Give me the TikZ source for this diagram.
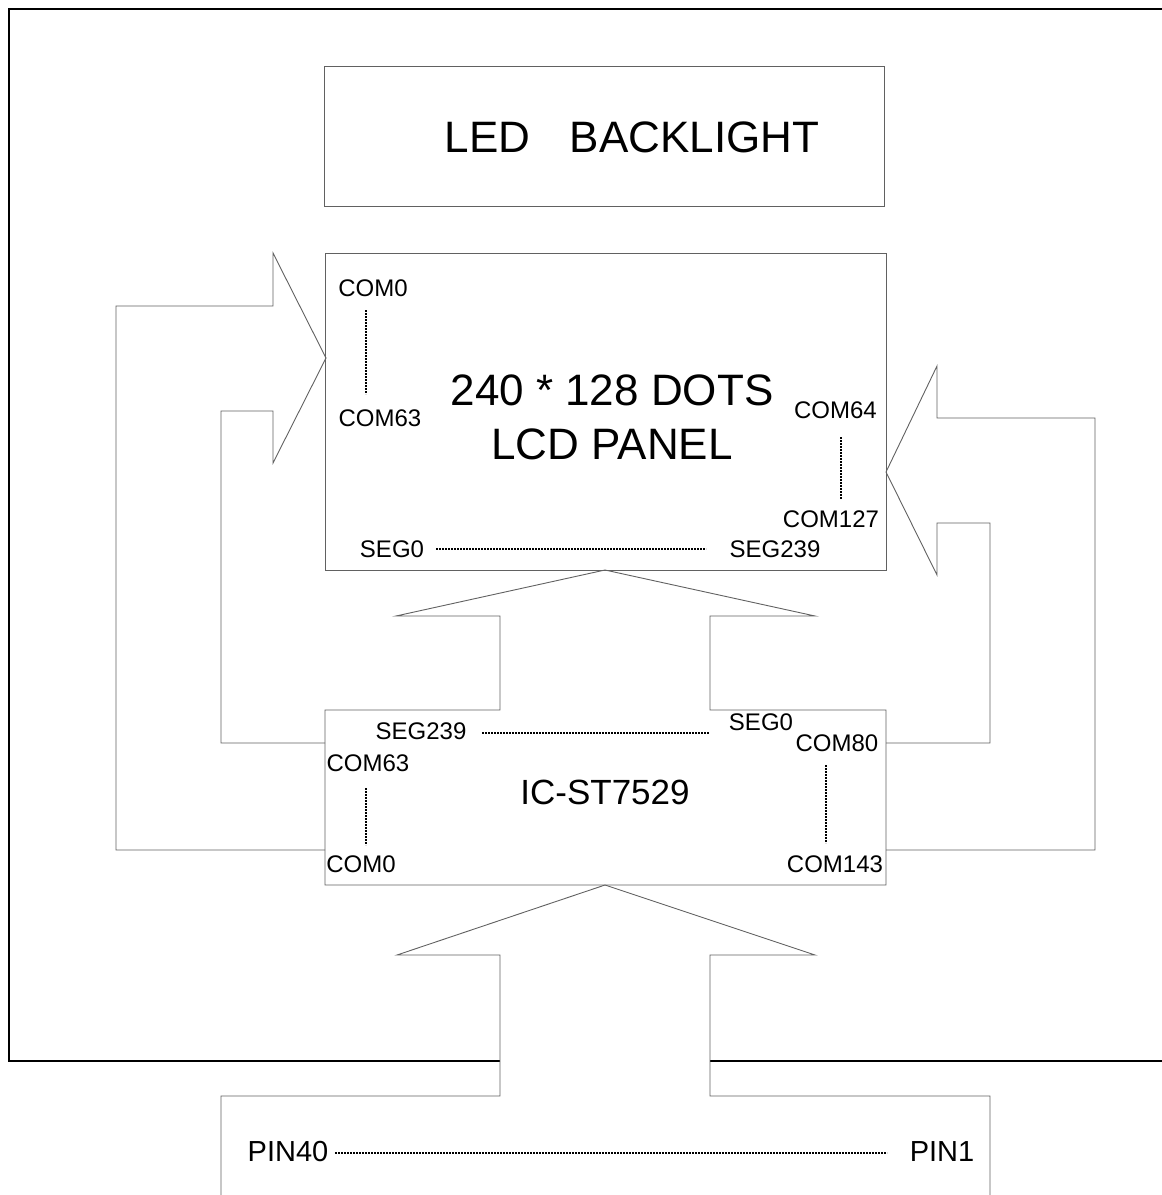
\documentclass[tikz,border=0pt]{standalone}
\usepackage{fontspec}
\setmainfont{Liberation Sans}
\begin{document}
\begin{tikzpicture}[x=1pt,y=-1pt,
  outline/.style={draw=black!62,line width=0.9pt,line join=miter},
  frameline/.style={draw=black,line width=1.6pt},
  dotline/.style={draw=black,line width=1.4pt,dash pattern=on 1.6pt off 1.4pt},
  lbl/.style={inner sep=0pt,font=\fontsize{24}{26}\selectfont},
  biglbl/.style={inner sep=0pt,font=\fontsize{44}{50}\selectfont},
  iclbl/.style={inner sep=0pt,font=\fontsize{35}{40}\selectfont},
  pinlbl/.style={inner sep=0pt,font=\fontsize{29}{32}\selectfont}]
\useasboundingbox (0,0) rectangle (1162,1195);
% outer frame
\draw[frameline] (500,1061) -- (9,1061) -- (9,9) -- (1162,9);
\draw[frameline] (710,1061) -- (1162,1061);
% LED backlight box
\draw[outline] (324,66) rectangle (884,206);
\node[biglbl] (led) at (632,137) {LED\hspace{0.9em}BACKLIGHT};
% LCD panel box
\draw[outline] (325,253) rectangle (886,570);
\node[biglbl] (dots) at (612,390) {240 * 128 DOTS};
\node[biglbl] (lcd) at (612,444) {LCD PANEL};
% left fat arrow (COM0..COM63)
\draw[outline] (325,850) -- (116,850) -- (116,306) -- (273,306) -- (273,253) -- (326,358)
  -- (273,463) -- (273,411) -- (221,411) -- (221,743) -- (325,743);
% right fat arrow (COM64..COM127)
\draw[outline] (886,850) -- (1095,850) -- (1095,418) -- (937,418) -- (937,366) -- (886,472)
  -- (937,575) -- (937,523) -- (990,523) -- (990,743) -- (886,743);
% segment arrow from IC to panel + IC box
\draw[outline] (886,710) -- (710,710) -- (710,616) -- (815,616) -- (605,570) -- (396,616)
  -- (500,616) -- (500,710) -- (325,710) -- (325,885) -- (886,885) -- cycle;
% arrow from connector to IC + connector box
\draw[outline] (221,1195) -- (221,1096) -- (500,1096) -- (500,955) -- (397,955) -- (605,885)
  -- (815,955) -- (710,955) -- (710,1096) -- (990,1096) -- (990,1195);
% panel labels
\node[lbl] (pcom0) at (373,288) {COM0};
\node[lbl] (pcom63) at (380,418) {COM63};
\node[lbl] (pcom64) at (835.5,410) {COM64};
\node[lbl] (pcom127) at (831,519) {COM127};
\node[lbl] (pseg0) at (392,549) {SEG0};
\node[lbl] (pseg239) at (775,549) {SEG239};
\draw[dotline] (366,310) -- (366,394);
\draw[dotline] (841,437) -- (841,499);
\draw[dotline] (436,549) -- (706,549);
% IC labels
\node[iclbl] (ic) at (605,792) {IC-ST7529};
\node[lbl] (iseg239) at (421,731) {SEG239};
\node[lbl] (iseg0) at (761,722) {SEG0};
\node[lbl] (icom80) at (837,743) {COM80};
\node[lbl] (icom63) at (368,763) {COM63};
\node[lbl] (icom0) at (361,864) {COM0};
\node[lbl] (icom143) at (835,864) {COM143};
\draw[dotline] (482,733) -- (709,733);
\draw[dotline] (366,788) -- (366,845);
\draw[dotline] (826,765) -- (826,843);
% connector labels
\node[pinlbl] (pin40) at (288,1152) {PIN40};
\node[pinlbl] (pin1) at (942,1152) {PIN1};
\draw[dotline] (335,1153) -- (887,1153);
\end{tikzpicture}
\end{document}
